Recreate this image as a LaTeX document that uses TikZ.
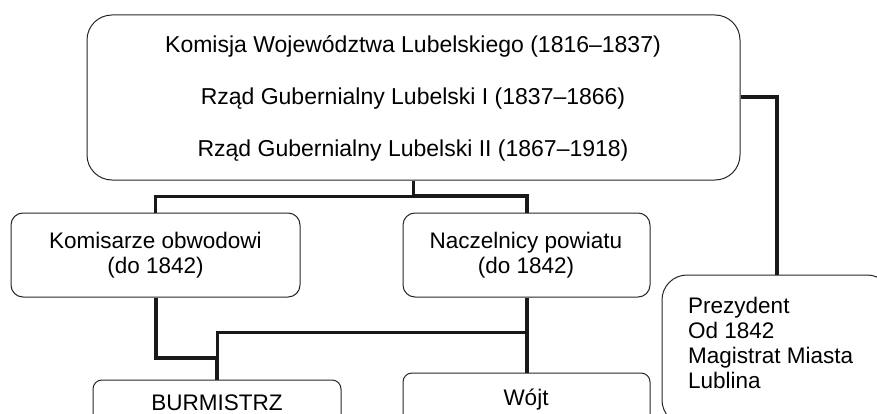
\documentclass[tikz,border=0pt]{standalone}
\usepackage{fontspec}
\setmainfont{Liberation Sans}
\begin{document}
\begin{tikzpicture}[x=1pt,y=-1pt,
  box/.style={draw=black!85, line width=1pt, rounded corners=12pt, inner sep=0pt},
  conn/.style={draw=black!90, line width=4pt, line join=miter},
  thinconn/.style={draw=black!90, line width=3pt, line join=miter},
  txt/.style={anchor=base, inner sep=0pt, font=\fontsize{22.5}{25}\selectfont},
  bigtxt/.style={anchor=base, inner sep=0pt, font=\fontsize{23}{25}\selectfont},
  ltxt/.style={anchor=base west, inner sep=0pt, font=\fontsize{22.5}{25}\selectfont}]
\useasboundingbox (0,0) rectangle (877,414);
\clip (0,0) rectangle (877,414);
% boxes
\node[box, rounded corners=25pt, minimum width=653pt, minimum height=165pt] (top) at (413.5,97.5) {};
\node[box, minimum width=289pt, minimum height=84pt] (kom) at (155.5,255) {};
\node[box, minimum width=247pt, minimum height=84pt] (nacz) at (526.5,255) {};
\node[box, rounded corners=9pt, minimum width=248pt, minimum height=80pt] (burm) at (217,420) {};
\node[box, rounded corners=9pt, minimum width=247pt, minimum height=80pt] (wojt) at (526.5,413) {};
\node[box, rounded corners=25pt, minimum width=230pt, minimum height=150pt] (prez) at (777,350) {};
% texts
\node[bigtxt] (t1) at (413,53) {Komisja Województwa Lubelskiego (1816–1837)};
\node[bigtxt] (t2) at (413,105) {Rząd Gubernialny Lubelski I (1837–1866)};
\node[bigtxt] (t3) at (413,157) {Rząd Gubernialny Lubelski II (1867–1918)};
\node[txt] (k1t) at (155.5,248) {Komisarze obwodowi};
\node[txt] (k2t) at (155.5,273) {(do 1842)};
\node[txt] (n1t) at (526,248) {Naczelnicy powiatu};
\node[txt] (n2t) at (526,273) {(do 1842)};
\node[txt] (bt) at (217,410) {BURMISTRZ};
\node[txt] (wt) at (526,405) {Wójt};
\node[ltxt] (p1) at (688,313) {Prezydent};
\node[ltxt] (p2) at (688,338) {Od 1842};
\node[ltxt] (p3) at (688,363) {Magistrat Miasta};
\node[ltxt] (p4) at (688,388) {Lublina};
% connectors
\coordinate (j1) at (413.5,196);
\coordinate (k1) at (155.5,358);
\coordinate (n1) at (526.5,332);
\draw[thinconn] (top.south) -- (j1) -| (kom.north);
\draw[conn] (j1) -| (nacz.north);
\draw[conn] (top.east) -| (prez.north);
\draw[conn] (kom.south) -- (k1) -| (burm.north);
\draw[conn] (nacz.south) -- (wojt.north);
\draw[thinconn] (n1) -| (burm.north);
\end{tikzpicture}
\end{document}
